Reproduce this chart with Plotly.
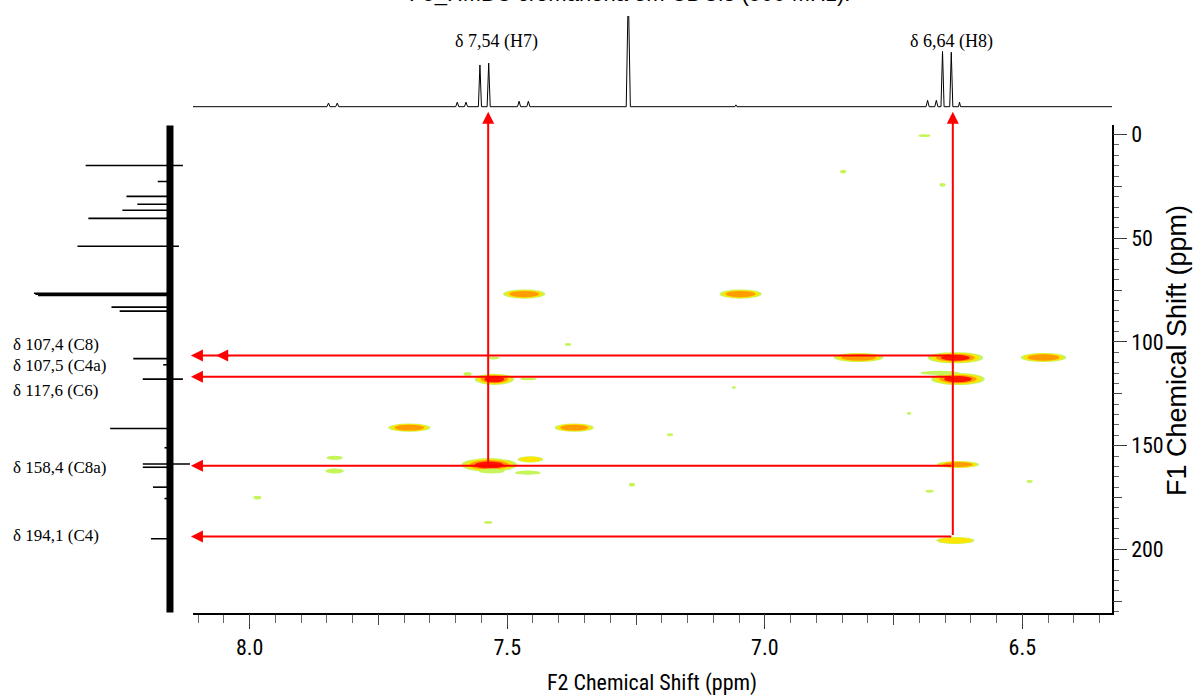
import plotly.graph_objects as go

# ---------------- data ----------------
# 1H projection (top): peak positions (ppm), heights (rel.), half base widths (ppm)
h1_ppm = [7.847, 7.830, 7.597, 7.580, 7.553, 7.536, 7.477, 7.459, 7.265, 7.056, 6.684, 6.667, 6.655, 6.638, 6.622]
h1_int = [0.04, 0.04, 0.05, 0.05, 0.46, 0.48, 0.06, 0.06, 1.30, 0.02, 0.07, 0.07, 0.61, 0.60, 0.05]
h1_hw = [0.003, 0.003, 0.003, 0.003, 0.003, 0.003, 0.003, 0.003, 0.004, 0.002, 0.003, 0.003, 0.003, 0.003, 0.002]

# 13C projection (left): positions (ppm), positive heights, negative tails
c13_ppm = [14.9, 22.6, 29.8, 33.6, 36.5, 40.4, 53.8, 76.5, 77.0, 77.5, 83.2, 85.1, 108.0, 111.0,
           117.9, 141.7, 151.0, 158.8, 160.4, 170.0, 175.5, 194.9]
c13_int = [0.62, 0.09, 0.32, 0.24, 0.35, 0.60, 0.68, 1.00, 0.99, 0.97, 0.43, 0.37, 0.27, 0.05,
           0.20, 0.44, 0.04, 0.20, 0.20, 0.125, 0.04, 0.14]
c13_neg = [0.095, 0, 0, 0, 0, 0, 0.066, 0, 0, 0, 0, 0, 0, 0,
           0.095, 0, 0, 0.147, 0, 0, 0, 0]

# HMBC cross peaks: F2 (ppm), F1 (ppm), half width F2 (ppm), half height F1 (ppm), contour level (1-4)
cp_f2 = [7.467, 7.047, 6.818, 6.630, 6.459, 7.525, 6.625, 6.660, 7.690, 7.370, 7.535, 7.530, 7.455,
         7.460, 7.835, 7.835, 6.625, 6.630,
         7.985, 7.258, 6.848, 6.655, 6.690, 7.382, 7.184, 6.680, 6.486, 7.537, 7.577, 7.459, 7.527,
         7.060, 6.720]
cp_f1 = [76.9, 76.9, 107.5, 107.6, 107.5, 118.0, 117.9, 114.9, 141.3, 141.3, 159.3, 162.2, 156.6,
         163.0, 155.8, 162.2, 159.1, 195.7,
         175.0, 168.8, 17.8, 24.2, 0.5, 101.2, 144.7, 172.0, 167.3, 187.0, 115.4, 117.8, 107.7,
         122.0, 134.5]
cp_dx = [0.041, 0.041, 0.048, 0.054, 0.044, 0.038, 0.052, 0.038, 0.041, 0.038, 0.054, 0.025, 0.025,
         0.025, 0.016, 0.018, 0.041, 0.037,
         0.008, 0.006, 0.006, 0.006, 0.012, 0.006, 0.006, 0.008, 0.006, 0.008, 0.008, 0.016, 0.012,
         0.004, 0.004]
cp_dy = [2.2, 2.2, 2.2, 2.7, 2.2, 2.7, 2.9, 1.0, 2.0, 2.0, 3.3, 1.2, 1.5,
         1.0, 1.0, 1.2, 1.7, 1.7,
         0.9, 0.9, 0.9, 0.9, 0.7, 0.7, 0.7, 0.7, 0.7, 0.7, 0.9, 0.7, 0.7,
         0.7, 0.7]
cp_level = [3, 3, 3, 4, 3, 4, 4, 1, 3, 3, 4, 1, 2,
            1, 1, 1, 3, 2,
            1, 1, 1, 1, 1, 1, 1, 1, 1, 1, 1, 1, 1,
            1, 1]

# correlation arrows
h_sel = [7.537, 6.635]            # F2 of H7, H8
h_end = [159.7, 193.8]            # F1 where the vertical lines stop
c_sel = [106.5, 116.8, 159.7, 193.8]   # F1 of horizontal arrows

left_labels = ["δ 107,4 (C8)", "δ 107,5 (C4a)", "δ 117,6 (C6)", "δ 158,4 (C8a)", "δ 194,1 (C4)"]
left_label_f1 = [101.0, 111.2, 123.6, 160.6, 193.3]
top_labels = ["δ 7,54 (H7)", "δ 6,64 (H8)"]
top_label_f2 = [7.52, 6.638]

x_ticks = [8.0, 7.5, 7.0, 6.5]
x_ticktext = ["8.0", "7.5", "7.0", "6.5"]
y_ticks = [0, 50, 100, 150, 200]

# ---------------- geometry / styles ----------------
W, H = 1193, 698
X_RANGE = [8.11, 6.326]
Y_RANGE = [230.8, -4.8]
main_xdom = [193 / W, 1112 / W]
main_ydom = [1 - 613 / H, 1 - 123 / H]
top_ydom = [1 - 110 / H, 1 - 14 / H]
left_xdom = [25 / W, 192 / W]

NARROW = "Liberation Sans Narrow, Arial Narrow, Roboto Condensed, DejaVu Sans Condensed, sans-serif"
SERIF = "Liberation Serif, Times New Roman, serif"
SANS = "Liberation Sans, Arial, sans-serif"

fig = go.Figure()

# ---- 1H projection
hx, hy = [X_RANGE[0] + 0.01], [0]
for p, h, w in sorted(zip(h1_ppm, h1_int, h1_hw), key=lambda t: -t[0]):
    hx += [p + w, p, p - w]
    hy += [0, h, 0]
hx.append(X_RANGE[1] - 0.01)
hy.append(0)
fig.add_trace(go.Scatter(x=hx, y=hy, xaxis="x2", yaxis="y2", mode="lines",
                         line=dict(color="black", width=1), hoverinfo="skip", showlegend=False))

# ---- 13C projection
fig.add_trace(go.Scatter(x=[0, 0], y=[-4.4, 230.4], xaxis="x3", yaxis="y3", mode="lines",
                         line=dict(color="black", width=7), hoverinfo="skip", showlegend=False))
cx, cy = [], []
for p, h, n in zip(c13_ppm, c13_int, c13_neg):
    cx += [-n, h, None]
    cy += [p, p, None]
fig.add_trace(go.Scatter(x=cx, y=cy, xaxis="x3", yaxis="y3", mode="lines",
                         line=dict(color="black", width=1.6), hoverinfo="skip", showlegend=False))

# ---- main 2D (cross peaks as nested contour ellipses)
colors = ["#c6f55a", "#ffe600", "#ff9c00", "#ff1400"]
fracs = [1.0, 0.86, 0.70, 0.52]
shapes = []
for f2, f1, dx, dy, lev in zip(cp_f2, cp_f1, cp_dx, cp_dy, cp_level):
    for k in range(lev):
        s = fracs[k] if lev > 1 else 1.0
        shapes.append(dict(type="circle", xref="x", yref="y", layer="above",
                           x0=f2 + dx * s, x1=f2 - dx * s, y0=f1 - dy * s, y1=f1 + dy * s,
                           fillcolor=colors[k], line=dict(width=0)))
fig.add_trace(go.Scatter(x=cp_f2, y=cp_f1, xaxis="x", yaxis="y", mode="markers",
                         marker=dict(size=4, opacity=0), showlegend=False,
                         hovertemplate="F2 %{x:.2f} / F1 %{y:.1f}<extra></extra>"))
# medium ticks axes
fig.add_trace(go.Scatter(x=[7.0], y=[100], xaxis="x5", yaxis="y", mode="markers",
                         marker=dict(opacity=0), hoverinfo="skip", showlegend=False))
fig.add_trace(go.Scatter(x=[7.0], y=[100], xaxis="x", yaxis="y5", mode="markers",
                         marker=dict(opacity=0), hoverinfo="skip", showlegend=False))

annotations = []
# vertical arrows (from cross peak up to the 1H spectrum)
for f2, end in zip(h_sel, h_end):
    annotations.append(dict(x=f2, y=-11.0, xref="x", yref="y", ax=f2, ay=end, axref="x", ayref="y",
                            text="", showarrow=True, arrowhead=2, arrowsize=1.2, arrowwidth=2,
                            arrowcolor="#ff0000", standoff=0, startstandoff=0))
# horizontal arrows (to the 13C spectrum)
for f1 in c_sel:
    annotations.append(dict(x=8.114, y=f1, xref="x", yref="y", ax=h_sel[1], ay=f1, axref="x", ayref="y",
                            text="", showarrow=True, arrowhead=2, arrowsize=1.2, arrowwidth=2,
                            arrowcolor="#ff0000", standoff=0, startstandoff=0))
annotations.append(dict(x=8.065, y=c_sel[0], xref="x", yref="y", ax=14, ay=0,
                        text="", showarrow=True, arrowhead=2, arrowsize=1.2, arrowwidth=2,
                        arrowcolor="#ff0000", standoff=0))

for t, f1 in zip(left_labels, left_label_f1):
    annotations.append(dict(x=11 / W, y=f1, xref="paper", yref="y", text=t, showarrow=False,
                            xanchor="left", yanchor="middle", font=dict(family=SERIF, size=17, color="black")))
for t, f2 in zip(top_labels, top_label_f2):
    annotations.append(dict(x=f2, y=1 - 40 / H, xref="x2", yref="paper", text=t, showarrow=False,
                            xanchor="center", yanchor="middle", font=dict(family=SERIF, size=18, color="black")))

annotations.append(dict(x=652 / W, y=1 - 683 / H, xref="paper", yref="paper", text="F2 Chemical Shift (ppm)",
                        showarrow=False, xanchor="center", yanchor="middle",
                        font=dict(family=NARROW, size=22, color="black")))
annotations.append(dict(x=1177 / W, y=1 - 350 / H, xref="paper", yref="paper", text="F1 Chemical Shift (ppm)",
                        showarrow=False, xanchor="center", yanchor="middle", textangle=-90,
                        font=dict(family=SANS, size=27, color="black")))
annotations.append(dict(x=630 / W, y=1, xref="paper", yref="paper",
                        text="F5_HMBC cromanona em CDCl3 (500 MHz).",
                        showarrow=False, xanchor="center", yanchor="bottom", yshift=-6,
                        font=dict(family=SANS, size=22, color="black")))

tickfont = dict(family=NARROW, size=22, color="black")
fig.update_layout(
    width=W, height=H, autosize=False,
    margin=dict(l=0, r=0, t=0, b=0),
    paper_bgcolor="white", plot_bgcolor="white",
    showlegend=False,
    shapes=shapes, annotations=annotations,
    xaxis=dict(domain=main_xdom, range=X_RANGE, anchor="y", side="bottom",
               showline=True, linecolor="black", linewidth=1.5, mirror=False,
               ticks="outside", ticklen=14, tickwidth=1, tickcolor="#333",
               tickvals=x_ticks, ticktext=x_ticktext, tickfont=tickfont,
               minor=dict(dtick=0.05, tick0=0, ticks="outside", ticklen=8, tickcolor="#666", tickwidth=1),
               showgrid=False, zeroline=False),
    xaxis5=dict(overlaying="x", range=X_RANGE, anchor="y", side="bottom", showline=False,
                ticks="outside", ticklen=11, tickwidth=1, tickcolor="#444", dtick=0.25, tick0=0,
                showticklabels=False, showgrid=False, zeroline=False),
    yaxis=dict(domain=main_ydom, range=Y_RANGE, anchor="x", side="right",
               showline=True, linecolor="black", linewidth=1.5,
               ticks="outside", ticklen=13, tickwidth=1, tickcolor="#333",
               tickvals=y_ticks, tickfont=tickfont,
               minor=dict(dtick=5, tick0=0, ticks="outside", ticklen=5, tickcolor="#666", tickwidth=1),
               showgrid=False, zeroline=False),
    yaxis5=dict(overlaying="y", range=Y_RANGE, anchor="x", side="right", showline=False,
                ticks="outside", ticklen=9, tickwidth=1, tickcolor="#444", dtick=25, tick0=0,
                showticklabels=False, showgrid=False, zeroline=False),
    xaxis2=dict(domain=main_xdom, range=X_RANGE, anchor="y2", visible=False),
    yaxis2=dict(domain=top_ydom, range=[-0.055, 1.0], anchor="x2", visible=False),
    xaxis3=dict(domain=left_xdom, range=[1.066, -0.162], anchor="y3", visible=False),
    yaxis3=dict(domain=main_ydom, range=Y_RANGE, anchor="x3", visible=False),
)

fig.write_html("out.html")
